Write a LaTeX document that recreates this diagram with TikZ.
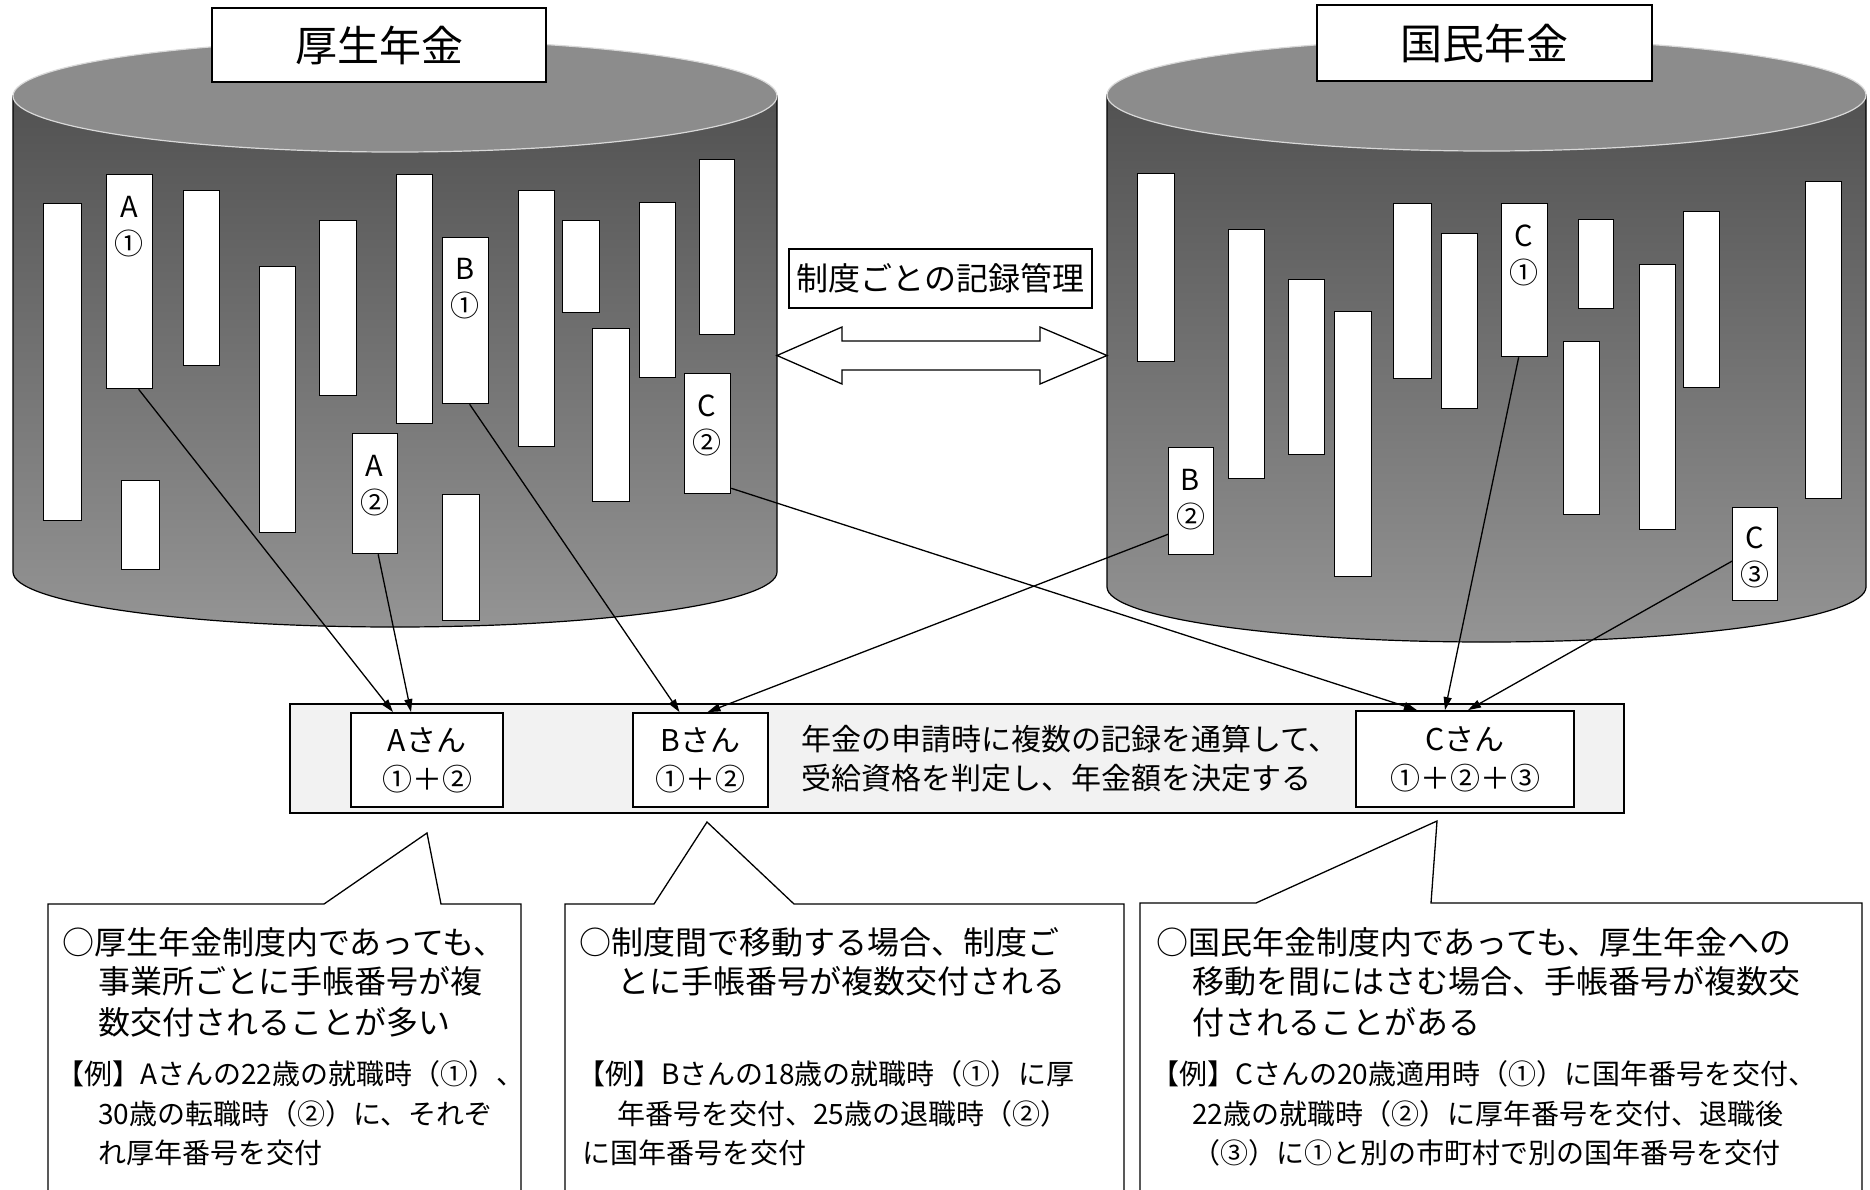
\documentclass[tikz,border=0pt]{standalone}
\usepackage{fontspec}
\setmainfont{Noto Sans CJK JP}
\usetikzlibrary{arrows.meta}
\newcommand\myfs[2]{\fontsize{#1}{#2}\selectfont}
\begin{document}
\begin{tikzpicture}[x=1pt,y=-1pt,
  bar/.style={draw=black, line width=1.3pt, fill=white, inner sep=0pt, anchor=north west},
  blab/.style={align=center, font=\myfs{29}{37}, inner sep=0pt},
  person/.style={draw=black, line width=1.8pt, fill=white, align=center, font=\myfs{30}{39}, inner sep=0pt},
  conn/.style={line width=1.3pt, -{Triangle[length=13pt,width=8pt]}},
  callout/.style={draw=black, line width=1.3pt, fill=white},
  ctext/.style={anchor=base west, font=\myfs{32}{40}, inner sep=0pt},
  etext/.style={anchor=base west, font=\myfs{28}{36}, inner sep=0pt},
  mtext/.style={anchor=base west, font=\myfs{30}{39}, inner sep=0pt},
  title/.style={draw=black, line width=1.3pt, fill=white, inner sep=0pt},
  body/.style={top color=black!68, bottom color=black!42, draw=black, line width=1.2pt},
  topface/.style={fill=black!45, draw=white!85!black, line width=1.2pt}
]
\useasboundingbox (0,0) rectangle (1870,1189);
\fill[white] (0,0) rectangle (1870,1189);

% ---------- left cylinder ----------
\path[body] (13,96) -- (13,572) .. controls (13,602.4) and (184,627) .. (395,627)
  .. controls (606,627) and (777,602.4) .. (777,572) -- (777,96) -- cycle;
\path[topface] (395,96) ellipse [x radius=382, y radius=56];

% ---------- right cylinder ----------
\path[body] (1107,95) -- (1107,587) .. controls (1107,617.4) and (1277,642) .. (1486.5,642)
  .. controls (1696,642) and (1866,617.4) .. (1866,587) -- (1866,95) -- cycle;
\path[topface] (1486.5,95) ellipse [x radius=379.5, y radius=56];

% ---------- bars, left ----------
\node[bar, minimum width=38, minimum height=317] (l1) at (43,203) {};
\node[bar, minimum width=46, minimum height=214] (A1) at (106,174) {};
\node[bar, minimum width=36, minimum height=175] (l3) at (183,190) {};
\node[bar, minimum width=38, minimum height=89] (l4) at (121,480) {};
\node[bar, minimum width=36, minimum height=266] (l5) at (259,266) {};
\node[bar, minimum width=37, minimum height=175] (l6) at (319,220) {};
\node[bar, minimum width=45, minimum height=120] (A2) at (352,433) {};
\node[bar, minimum width=36, minimum height=249] (l8) at (396,174) {};
\node[bar, minimum width=46, minimum height=166] (B1) at (442,237) {};
\node[bar, minimum width=37, minimum height=126] (l10) at (442,494) {};
\node[bar, minimum width=36, minimum height=256] (l11) at (518,190) {};
\node[bar, minimum width=37, minimum height=92] (l12) at (562,220) {};
\node[bar, minimum width=37, minimum height=173] (l13) at (592,328) {};
\node[bar, minimum width=36, minimum height=175] (l14) at (639,202) {};
\node[bar, minimum width=46, minimum height=120] (C2) at (684,373) {};
\node[bar, minimum width=35, minimum height=175] (l16) at (699,159) {};

% ---------- bars, right ----------
\node[bar, minimum width=37, minimum height=188] (r1) at (1137,173) {};
\node[bar, minimum width=36, minimum height=249] (r2) at (1228,229) {};
\node[bar, minimum width=36, minimum height=175] (r3) at (1288,279) {};
\node[bar, minimum width=37, minimum height=265] (r4) at (1334,311) {};
\node[bar, minimum width=38, minimum height=175] (r5) at (1393,203) {};
\node[bar, minimum width=36, minimum height=175] (r6) at (1441,233) {};
\node[bar, minimum width=46, minimum height=153] (C1) at (1501,203) {};
\node[bar, minimum width=36, minimum height=173] (r8) at (1563,341) {};
\node[bar, minimum width=35, minimum height=89] (r9) at (1578,219) {};
\node[bar, minimum width=36, minimum height=265] (r10) at (1639,264) {};
\node[bar, minimum width=36, minimum height=176] (r11) at (1683,211) {};
\node[bar, minimum width=36, minimum height=317] (r12) at (1805,181) {};
\node[bar, minimum width=45, minimum height=107] (B2) at (1168,447) {};
\node[bar, minimum width=45, minimum height=93] (C3) at (1732,507) {};

% ---------- bar labels ----------
\node[blab] (A1t) at (129,227) {A\\①};
\node[blab] (A2t) at (374.5,486) {A\\②};
\node[blab] (B1t) at (465,289) {B\\①};
\node[blab] (C2t) at (707,425) {C\\②};
\node[blab] (C1t) at (1524,255) {C\\①};
\node[blab] (B2t) at (1190.5,500) {B\\②};
\node[blab] (C3t) at (1754.5,557) {C\\③};

% ---------- titles ----------
\node[title, minimum width=334, minimum height=74, font=\myfs{42}{50}] (kousei) at (379,45) {厚生年金};
\node[title, minimum width=335, minimum height=76, font=\myfs{42}{50}] (kokumin) at (1484.5,43) {国民年金};
\node[title, minimum width=303, minimum height=59, font=\myfs{32}{40}] (seido) at (940.5,278.5) {制度ごとの記録管理};

% ---------- double arrow ----------
\draw[line width=1.3pt, fill=white] (777,355.5) -- (842,327) -- (842,341) -- (1040,341) -- (1040,327)
  -- (1107,355.5) -- (1040,384) -- (1040,370) -- (842,370) -- (842,384) -- cycle;

% ---------- summary box ----------
\node[draw=black, line width=1.3pt, fill=black!5, minimum width=1334, minimum height=109, inner sep=0pt] (sum) at (957,758.5) {};
\node[person, minimum width=152, minimum height=94] (Asan) at (427,760) {Aさん\\①＋②};
\node[person, minimum width=135, minimum height=94] (Bsan) at (700.5,760) {Bさん\\①＋②};
\node[person, minimum width=218, minimum height=96] (Csan) at (1465,759) {Cさん\\①＋②＋③};
\node[mtext] (sumt1) at (801,750) {年金の申請時に複数の記録を通算して、};
\node[mtext] (sumt2) at (801,789) {受給資格を判定し、年金額を決定する};

% ---------- connectors ----------
\draw[conn] ([xshift=9pt]A1.south) -- ([xshift=-34pt]Asan.north);
\draw[conn] ([xshift=3pt]A2.south) -- ([xshift=-16pt]Asan.north);
\draw[conn] ([xshift=4pt]B1.south) -- ([xshift=-21pt]Bsan.north);
\draw[conn] ([yshift=21pt]B2.south west) -- ([xshift=7pt]Bsan.north);
\draw[conn] ([yshift=6pt]C2.south east) -- ([xshift=-48pt]Csan.north);
\draw[conn] ([xshift=-6pt]C1.south) -- ([xshift=-20pt]Csan.north);
\draw[conn] ([yshift=-7pt]C3.west) -- ([xshift=3pt]Csan.north);

% ---------- callouts ----------
\draw[callout] (48,1195) -- (48,904) -- (324,904) -- (427,833) -- (441,904) -- (521,904) -- (521,1195);
\draw[callout] (565,1195) -- (565,904) -- (654,904) -- (707,822) -- (794,904) -- (1124,904) -- (1124,1195);
\draw[callout] (1140,1195) -- (1140,903) -- (1256,903) -- (1437,821) -- (1431,903) -- (1862,903) -- (1862,1195);

\node[ctext] (L1) at (62,954) {○厚生年金制度内であっても、};
\node[ctext] (L2) at (98,993) {事業所ごとに手帳番号が複};
\node[ctext] (L3) at (98,1034) {数交付されることが多い};
\node[etext] (L4) at (56,1084) {【例】Aさんの22歳の就職時（①）、};
\node[etext] (L5) at (98,1124) {30歳の転職時（②）に、それぞ};
\node[etext] (L6) at (98,1163) {れ厚年番号を交付};

\node[ctext] (M1) at (579,954) {○制度間で移動する場合、制度ご};
\node[ctext] (M2) at (617,993) {とに手帳番号が複数交付される};
\node[etext] (M3) at (577,1084) {【例】Bさんの18歳の就職時（①）に厚};
\node[etext] (M4) at (617,1124) {年番号を交付、25歳の退職時（②）};
\node[etext] (M5) at (582,1163) {に国年番号を交付};

\node[ctext] (R1) at (1156,954) {○国民年金制度内であっても、厚生年金への};
\node[ctext] (R2) at (1192,993) {移動を間にはさむ場合、手帳番号が複数交};
\node[ctext] (R3) at (1192,1034) {付されることがある};
\node[etext] (R4) at (1151,1084) {【例】Cさんの20歳適用時（①）に国年番号を交付、};
\node[etext] (R5) at (1192,1124) {22歳の就職時（②）に厚年番号を交付、退職後};
\node[etext] (R6) at (1192,1163) {（③）に①と別の市町村で別の国年番号を交付};
\end{tikzpicture}
\end{document}
